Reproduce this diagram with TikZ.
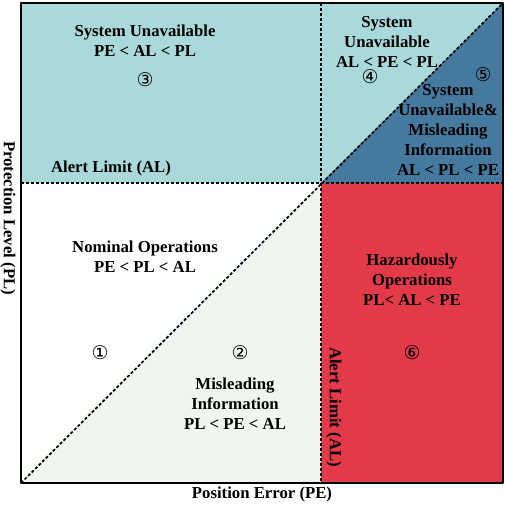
\documentclass[tikz,border=0pt]{standalone}
\usepackage{fontspec}
\setmainfont{Liberation Serif}
\newfontfamily\circfont{DejaVu Sans}
\definecolor{unavail}{HTML}{A9D9DA}
\definecolor{unavmis}{HTML}{46799E}
\definecolor{hazard}{HTML}{E33A4A}
\definecolor{mislead}{HTML}{EEF6EE}
\tikzset{
	lbl/.style={align=center, font=\bfseries\fontsize{16.8}{20}\selectfont},
	num/.style={font=\circfont\fontsize{19}{19}\selectfont},
	limit/.style={line width=1.7bp, dash pattern=on 3bp off 2bp}
}
\begin{document}
\begin{tikzpicture}[x=1bp,y=-1bp, line join=round, line cap=butt]
	\useasboundingbox (0,0) rectangle (505,505);
	\def\xmin{21} \def\xmax{503} \def\ymin{483} \def\ymax{3}
	\def\al{321} \def\aly{183}
	\coordinate (O) at (\xmin,\ymin);
	\coordinate (A) at (\al,\aly);
	\coordinate (TR) at (\xmax,\ymax);
	% regions
	\fill[unavail] (\xmin,\ymax) rectangle (\xmax,\aly);
	\fill[unavmis] (A) -- (TR) -- (\xmax,\aly) -- cycle;
	\fill[mislead] (O) -- (A) -- (\al,\ymin) -- cycle;
	\fill[hazard] (A) rectangle (\xmax,\ymin);
	% limits
	\draw[limit] (\xmin,\aly) -- (\xmax,\aly);
	\draw[limit] (\al,\ymax) -- (\al,\ymin);
	\draw[limit] (O) -- (TR);
	\draw[line width=2.2bp] (\xmin,\ymax) rectangle (\xmax,\ymin);
	% labels
	\node[lbl] (su) at (145,41) {System Unavailable\\PE < AL < PL};
	\node[num] (n3) at (145,80) {③};
	\node[lbl] (alh) at (111,168) {Alert Limit (AL)};
	\node[lbl] (su2) at (387,42) {System\\Unavailable\\AL < PE < PL};
	\node[num] (n4) at (370,77) {④};
	\node[num] (n5) at (483,75) {⑤};
	\node[lbl] (sum) at (448,130) {System\\Unavailable\&\\Misleading\\Information\\AL < PL < PE};
	\node[lbl] (nom) at (145,257) {Nominal Operations\\PE < PL < AL};
	\node[num] (n1) at (100,353) {①};
	\node[num] (n2) at (240,353) {②};
	\node[lbl] (mi) at (235,404) {Misleading\\Information\\PL < PE < AL};
	\node[lbl] (haz) at (412,280) {Hazardously\\Operations\\PL< AL < PE};
	\node[num] (n6) at (412,353) {⑥};
	\node[lbl, rotate=-90] (alv) at (334,407) {Alert Limit (AL)};
	\node[lbl, rotate=-90] (pl) at (8,218) {Protection Level (PL)};
	\node[lbl] (pe) at (262,494) {Position Error (PE)};
\end{tikzpicture}
\end{document}
